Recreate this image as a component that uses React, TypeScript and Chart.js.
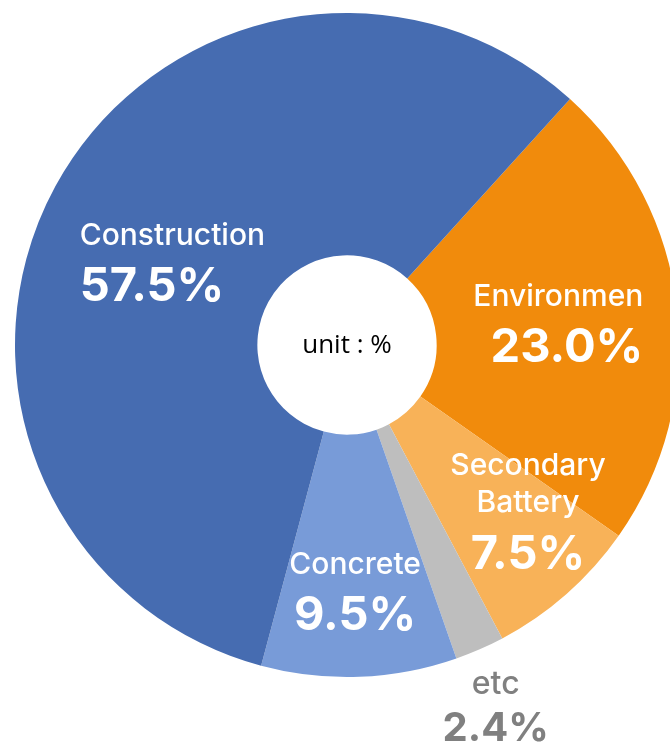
import React, { useEffect, useRef } from "react";
import { Chart, registerables } from "chart.js";

Chart.register(...registerables);

const categories = ["Environmen", "Secondary Battery", "etc", "Concrete", "Construction"];
const nameLines = [["Environmen"], ["Secondary", "Battery"], ["etc"], ["Concrete"], ["Construction"]];
const values = [23.0, 7.5, 2.4, 9.5, 57.5];
const colors = ["#F18B0C", "#F8B258", "#BEBEBE", "#789BD8", "#466CB1"];
const textColors = ["#FFFFFF", "#FFFFFF", "#808080", "#FFFFFF", "#FFFFFF"];
const centerText = "unit : %";

// label placement: fraction of outer radius, angle delta (deg) from slice middle, alignment
const labelFrac = [0.894, 0.868, 1.275, 0.86, 0.816];
const labelDelta = [9.7, 2.5, 3.0, 0.5, -19.3];
const labelAlign: CanvasTextAlign[] = ["right", "center", "center", "center", "left"];
const pctSize = [47, 47, 40, 47, 47];
const nameSize = [30, 30, 32, 30, 30];
const pctGap = [56, 57, 47, 56, 56];

const labelPlugin = {
  id: "sliceLabels",
  afterDatasetsDraw(chart: any) {
    const ctx = chart.ctx;
    const meta = chart.getDatasetMeta(0);
    meta.data.forEach((arc: any, i: number) => {
      const p = arc.getProps(["x", "y", "startAngle", "endAngle", "outerRadius"], true);
      const mid = (p.startAngle + p.endAngle) / 2 + (labelDelta[i] * Math.PI) / 180;
      const r = p.outerRadius * labelFrac[i];
      const x = p.x + Math.cos(mid) * r;
      const y = p.y + Math.sin(mid) * r;
      ctx.save();
      ctx.fillStyle = textColors[i];
      ctx.textAlign = labelAlign[i];
      ctx.textBaseline = "alphabetic";
      ctx.font = `bold ${pctSize[i]}px Inter`;
      ctx.fillText(values[i].toFixed(1) + "%", x, y);
      ctx.font = `500 ${nameSize[i]}px Inter`;
      const lines = nameLines[i];
      for (let k = 0; k < lines.length; k++) {
        const off = pctGap[i] + (lines.length - 1 - k) * 37;
        ctx.fillText(lines[k], x, y - off);
      }
      ctx.restore();
    });
    const p0 = meta.data[0].getProps(["x", "y"], true);
    ctx.save();
    ctx.fillStyle = "#000000";
    ctx.textAlign = "center";
    ctx.textBaseline = "alphabetic";
    ctx.font = "26px 'Open Sans'";
    ctx.fillText(centerText, p0.x, p0.y + 8);
    ctx.restore();
  },
};

export default function App() {
  const ref = useRef<HTMLCanvasElement>(null);
  useEffect(() => {
    document.body.style.overflow = "hidden";
    const chart = new Chart(ref.current!, {
      type: "doughnut",
      data: {
        labels: categories,
        datasets: [
          {
            data: values,
            backgroundColor: colors,
            borderWidth: 0,
          },
        ],
      },
      options: {
        responsive: false,
        animation: false,
        rotation: 42.2,
        cutout: "27%",
        layout: { padding: { top: 0, left: 0, right: 0, bottom: 86 } },
        plugins: {
          legend: { display: false },
          tooltip: { enabled: false },
        },
      },
      plugins: [labelPlugin],
    });
    return () => chart.destroy();
  }, []);
  return (
    <div
      style={{
        position: "fixed",
        left: 0,
        top: 0,
        width: 670,
        height: 750,
        overflow: "hidden",
        background: "#ffffff",
      }}
    >
      <canvas
        ref={ref}
        width={664}
        height={750}
        style={{ position: "absolute", left: 15, top: 13, width: 664, height: 750 }}
      />
    </div>
  );
}
